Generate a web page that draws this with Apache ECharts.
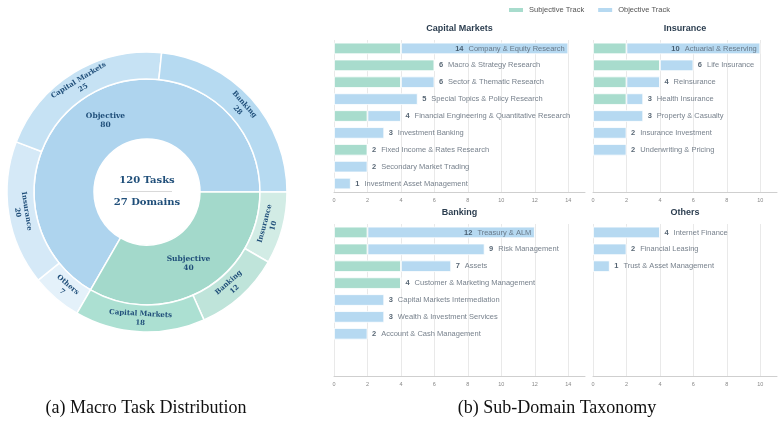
<!DOCTYPE html>
<html><head><meta charset="utf-8">
<script src="https://cdn.jsdelivr.net/npm/echarts@6/dist/echarts.min.js"></script>
<style>html,body{margin:0;padding:0;background:#fff}#c{width:783px;height:424px}</style>
</head><body><div id="c"></div>
<script>
// ---------- (a) Macro task distribution ----------
const trackNames = ['Objective', 'Subjective'];
const objDomainNames = ['Others', 'Insurance', 'Capital Markets', 'Banking'];
const objDomainValues = [7, 20, 25, 28];
const subjDomainNames = ['Insurance', 'Banking', 'Capital Markets'];
const subjDomainValues = [10, 12, 18];
const centerLines = ['120 Tasks', '27 Domains'];

// ---------- (b) Sub-domain taxonomy ----------
const cmNames = ['Company & Equity Research', 'Macro & Strategy Research', 'Sector & Thematic Research',
  'Special Topics & Policy Research', 'Financial Engineering & Quantitative Research', 'Investment Banking',
  'Fixed Income & Rates Research', 'Secondary Market Trading', 'Investment Asset Management'];
const cmSubj = [4, 6, 4, 0, 2, 0, 2, 0, 0];
const cmObj = [10, 0, 2, 5, 2, 3, 0, 2, 1];

const insNames = ['Actuarial & Reserving', 'Life Insurance', 'Reinsurance', 'Health Insurance',
  'Property & Casualty', 'Insurance Investment', 'Underwriting & Pricing'];
const insSubj = [2, 4, 2, 2, 0, 0, 0];
const insObj = [8, 2, 2, 1, 3, 2, 2];

const bankNames = ['Treasury & ALM', 'Risk Management', 'Assets', 'Customer & Marketing Management',
  'Capital Markets Intermediation', 'Wealth & Investment Services', 'Account & Cash Management'];
const bankSubj = [2, 2, 4, 4, 0, 0, 0];
const bankObj = [10, 7, 3, 0, 3, 3, 2];

const othNames = ['Internet Finance', 'Financial Leasing', 'Trust & Asset Management'];
const othSubj = [0, 0, 0];
const othObj = [4, 2, 1];

const panelTitles = ['Capital Markets', 'Insurance', 'Banking', 'Others'];
const xTickMaxLeft = 15, xTickMaxRight = 11, xTickStep = 2;

// ---------- styling ----------
const SUBJ = '#a8dccd', OBJ = '#b6d9f1';
const LBL = '#1f4e79';
const treeColors = {
  'Objective': '#aed4ee', 'Subjective': '#a3d9cb',
  'Objective/Others': '#e4f1fa', 'Objective/Insurance': '#d5e9f7',
  'Objective/Capital Markets': '#c6e2f4', 'Objective/Banking': '#b6daf1',
  'Subjective/Insurance': '#d2ece5', 'Subjective/Banking': '#bfe4da',
  'Subjective/Capital Markets': '#ace0d2'
};
function kids(track, names, vals) {
  return names.map((n, i) => ({ name: n, value: vals[i], itemStyle: { color: treeColors[track + '/' + n] } }));
}
const sunData = [
  { name: trackNames[0], itemStyle: { color: treeColors.Objective }, children: kids('Objective', objDomainNames, objDomainValues) },
  { name: trackNames[1], itemStyle: { color: treeColors.Subjective }, children: kids('Subjective', subjDomainNames, subjDomainValues) }
];

const panels = [
  { names: cmNames, subj: cmSubj, obj: cmObj, max: xTickMaxLeft, left: 334, top: 40, width: 251 },
  { names: insNames, subj: insSubj, obj: insObj, max: xTickMaxRight, left: 593, top: 40, width: 184 },
  { names: bankNames, subj: bankSubj, obj: bankObj, max: xTickMaxLeft, left: 334, top: 224, width: 251 },
  { names: othNames, subj: othSubj, obj: othObj, max: xTickMaxRight, left: 593, top: 224, width: 184 }
];
const SLOTS = 9;

const grid = [], xAxis = [], yAxis = [], series = [], titles = [];
panels.forEach((p, k) => {
  grid.push({ left: p.left, top: p.top, width: p.width, height: 152 });
  xAxis.push({
    gridIndex: k, type: 'value', min: 0, max: p.max, interval: xTickStep,
    axisLine: { show: true, lineStyle: { color: '#cfcfcf', width: 1 } },
    axisTick: { show: false },
    axisLabel: { fontSize: 5.5, color: '#888', margin: 5, showMaxLabel: false, fontFamily: 'Liberation Sans' },
    splitLine: { show: true, showMaxLine: false, lineStyle: { color: '#e9e9e9', width: 1 } }
  });
  const cats = p.names.slice();
  while (cats.length < SLOTS) cats.push(' '.repeat(cats.length + 1));
  yAxis.push({
    gridIndex: k, type: 'category', inverse: true, data: cats,
    axisLine: { show: false }, axisTick: { show: false }, axisLabel: { show: false }, splitLine: { show: false }
  });
  const common = { type: 'bar', xAxisIndex: k, yAxisIndex: k, stack: 's' + k, barWidth: 11.5,
    itemStyle: { borderColor: '#fff', borderWidth: 0.8 }, emphasis: { disabled: true } };
  series.push(Object.assign({}, common, { name: 'Subjective Track', data: p.subj, itemStyle: Object.assign({ color: SUBJ }, common.itemStyle) }));
  series.push(Object.assign({}, common, { name: 'Objective Track', data: p.obj, itemStyle: Object.assign({ color: OBJ }, common.itemStyle) }));
  series.push({
    type: 'scatter', xAxisIndex: k, yAxisIndex: k, symbolSize: 1, silent: true,
    itemStyle: { color: 'rgba(0,0,0,0)' },
    data: p.names.map((n, i) => {
      const tot = p.subj[i] + p.obj[i];
      const inside = tot / p.max > 0.7;
      return { value: [tot, n], name: n,
        label: inside ? { position: 'left', distance: 3 } : { position: 'right', distance: 4 } };
    }),
    label: {
      show: true, fontFamily: 'Liberation Sans',
      formatter: d => '{n|' + d.value[0] + '}{t|' + d.name + '}',
      rich: {
        n: { fontSize: 7.5, fontWeight: 'bold', color: '#2c3e50', padding: [0, 5, 0, 0], fontFamily: 'Liberation Sans' },
        t: { fontSize: 7.5, color: '#55626f', fontFamily: 'Liberation Sans' }
      }
    }
  });
  titles.push({ text: panelTitles[k], left: p.left + p.width / 2, top: p.top - 16, textAlign: 'center', padding: 0,
    textStyle: { fontSize: 9, fontWeight: 'bold', color: '#2c3e50', fontFamily: 'Liberation Sans' } });
});

titles.push({ text: '(a) Macro Task Distribution', left: 146, top: 399, textAlign: 'center', padding: 0,
  textStyle: { fontSize: 18, fontWeight: 'normal', color: '#111', fontFamily: 'Liberation Serif' } });
titles.push({ text: '(b) Sub-Domain Taxonomy', left: 557, top: 399, textAlign: 'center', padding: 0,
  textStyle: { fontSize: 18, fontWeight: 'normal', color: '#111', fontFamily: 'Liberation Serif' } });

series.push({
  type: 'sunburst', center: [147, 192], radius: [53, 140], sort: null, startAngle: 240,
  nodeClick: false, emphasis: { disabled: true },
  data: sunData,
  itemStyle: { borderColor: '#fff', borderWidth: 1.5 },
  label: { fontFamily: 'DejaVu Serif', fontWeight: 'bold', color: LBL, fontSize: 7.5, lineHeight: 9,
    formatter: '{b}\n{c}' },
  levels: [
    {},
    { r0: 53, r: 113, label: { rotate: 0, fontSize: 7.5 } },
    { r0: 113, r: 140, label: { rotate: 'tangential', fontSize: 7 } }
  ]
});

const chart = echarts.init(document.getElementById('c'), null, { renderer: 'canvas' });
chart.setOption({
  animation: false,
  backgroundColor: '#fff',
  title: titles,
  legend: {
    data: ['Subjective Track', 'Objective Track'], left: 507, top: 6, padding: 0, icon: 'rect',
    itemWidth: 16, itemHeight: 6, itemGap: 12, selectedMode: false,
    textStyle: { fontSize: 7.5, color: '#555', fontFamily: 'Liberation Sans' }
  },
  grid, xAxis, yAxis, series,
  graphic: [
    { type: 'text', position: [147, 180], style: { text: centerLines[0], x: 0, y: 0, align: 'center', verticalAlign: 'middle',
      font: 'bold 10px "DejaVu Serif"', fill: LBL } },
    { type: 'line', shape: { x1: 121, y1: 191.5, x2: 172, y2: 191.5 }, style: { stroke: '#d9d9d9', lineWidth: 1 } },
    { type: 'text', position: [147, 202], style: { text: centerLines[1], x: 0, y: 0, align: 'center', verticalAlign: 'middle',
      font: 'bold 10px "DejaVu Serif"', fill: LBL } }
  ]
});
</script></body></html>
